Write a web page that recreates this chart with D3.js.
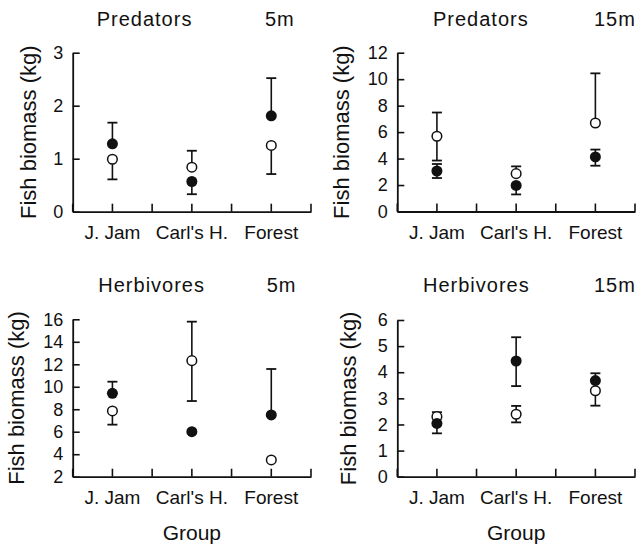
<!DOCTYPE html>
<html>
<head>
<meta charset="utf-8">
<script src="https://cdn.jsdelivr.net/npm/d3@7"></script>
<style>
  html, body { margin: 0; padding: 0; background: #fff; }
  svg { display: block; }
  text { font-family: "Liberation Sans", Arial, Helvetica, sans-serif; fill: #111; }
</style>
</head>
<body>
<svg id="chart" width="637" height="546"></svg>
<script>
// ---- Data ----
const groups = ["J. Jam", "Carl's H.", "Forest"];

// Predators 5m
const pred5Filled     = [1.28, 0.57, 1.81];
const pred5FilledUp   = [1.68, null, 2.52];
const pred5FilledLow  = [null, 0.33, null];
const pred5Open       = [0.99, 0.84, 1.25];
const pred5OpenUp     = [null, 1.15, null];
const pred5OpenLow    = [0.61, null, 0.71];
const pred5Ticks      = [0, 1, 2, 3];

// Predators 15m
const pred15Filled    = [3.06, 1.97, 4.12];
const pred15FilledUp  = [3.59, null, 4.68];
const pred15FilledLow = [2.53, 1.29, 3.46];
const pred15Open      = [5.69, 2.86, 6.69];
const pred15OpenUp    = [7.48, 3.41, 10.44];
const pred15OpenLow   = [3.85, null, null];
const pred15Ticks     = [0, 2, 4, 6, 8, 10, 12];

// Herbivores 5m
const herb5Filled     = [9.42, 6.0, 7.49];
const herb5FilledUp   = [10.45, null, 11.58];
const herb5FilledLow  = [null, null, null];
const herb5Open       = [7.85, 12.32, 3.49];
const herb5OpenUp     = [null, 15.79, null];
const herb5OpenLow    = [6.63, 8.73, null];
const herb5Ticks      = [2, 4, 6, 8, 10, 12, 14, 16];

// Herbivores 15m
const herb15Filled    = [2.04, 4.43, 3.68];
const herb15FilledUp  = [null, 5.34, 3.96];
const herb15FilledLow = [1.66, 3.47, null];
const herb15Open      = [2.30, 2.39, 3.29];
const herb15OpenUp    = [2.47, 2.71, null];
const herb15OpenLow   = [null, 2.08, 2.72];
const herb15Ticks     = [0, 1, 2, 3, 4, 5, 6];

const yLabel = "Fish biomass (kg)";
const xLabel = "Group";

// ---- Layout ----
const panels = [
  { title: "Predators", depth: "5m", x0: 72.7, x1: 311, yTop: 52.7, yBot: 211.7,
    ticks: pred5Ticks, tX: 96.7, dX: 265, tY: 26, yLabX: 36,
    filled: pred5Filled, fUp: pred5FilledUp, fLow: pred5FilledLow,
    open: pred5Open, oUp: pred5OpenUp, oLow: pred5OpenLow, showX: false },
  { title: "Predators", depth: "15m", x0: 397.3, x1: 635, yTop: 52.7, yBot: 211.5,
    ticks: pred15Ticks, tX: 433, dX: 594, tY: 26, yLabX: 349,
    filled: pred15Filled, fUp: pred15FilledUp, fLow: pred15FilledLow,
    open: pred15Open, oUp: pred15OpenUp, oLow: pred15OpenLow, showX: false },
  { title: "Herbivores", depth: "5m", x0: 72.7, x1: 311, yTop: 319.3, yBot: 476.7,
    ticks: herb5Ticks, tX: 98.3, dX: 266.7, tY: 292, yLabX: 24,
    filled: herb5Filled, fUp: herb5FilledUp, fLow: herb5FilledLow,
    open: herb5Open, oUp: herb5OpenUp, oLow: herb5OpenLow, showX: true },
  { title: "Herbivores", depth: "15m", x0: 397.3, x1: 635, yTop: 320, yBot: 476.7,
    ticks: herb15Ticks, tX: 423, dX: 594, tY: 292, yLabX: 355.6,
    filled: herb15Filled, fUp: herb15FilledUp, fLow: herb15FilledLow,
    open: herb15Open, oUp: herb15OpenUp, oLow: herb15OpenLow, showX: true }
];

const svg = d3.select("#chart");
const ink = "#111";

panels.forEach(p => {
  const g = svg.append("g");
  const x = d3.scaleBand().domain(groups).range([p.x0, p.x1]).paddingInner(0).paddingOuter(0);
  const y = d3.scaleLinear().domain([p.ticks[0], p.ticks[p.ticks.length - 1]]).range([p.yBot, p.yTop]);
  const cx = d => x(d) + x.bandwidth() / 2;

  // Y axis
  const ya = g.append("g").attr("transform", `translate(${p.x0},0)`)
    .call(d3.axisLeft(y).tickValues(p.ticks).tickFormat(d3.format("d"))
      .tickSizeInner(-7).tickSizeOuter(0).tickPadding(9.5));
  ya.select(".domain").attr("stroke", ink).attr("stroke-width", 1.8);
  ya.selectAll(".tick line").attr("stroke", ink).attr("stroke-width", 1.6);
  ya.selectAll(".tick text").attr("font-size", 18).attr("fill", ink)
    .style("font-family", "'Liberation Sans', Arial, sans-serif");

  // X axis
  const xa = g.append("g").attr("transform", `translate(0,${p.yBot})`)
    .call(d3.axisBottom(x).tickSizeInner(-8).tickSizeOuter(0).tickPadding(14));
  xa.select(".domain").attr("stroke", ink).attr("stroke-width", 1.8);
  xa.selectAll(".tick line").attr("stroke", ink).attr("stroke-width", 1.6);
  xa.selectAll(".tick text").attr("font-size", 19).attr("fill", ink)
    .style("font-family", "'Liberation Sans', Arial, sans-serif");
  // boundary ticks between bands
  const bounds = groups.map(d => x(d) + x.bandwidth()).concat([x(groups[0])]);
  g.append("g").selectAll("line").data(bounds).join("line")
    .attr("x1", d => d).attr("x2", d => d)
    .attr("y1", p.yBot).attr("y2", p.yBot - 8)
    .attr("stroke", ink).attr("stroke-width", 1.6);

  // Titles
  g.append("text").attr("x", p.tX).attr("y", p.tY).attr("font-size", 20)
    .attr("letter-spacing", "1px").text(p.title);
  g.append("text").attr("x", p.dX).attr("y", p.tY).attr("font-size", 20)
    .attr("letter-spacing", "1px").text(p.depth);

  // Y label
  g.append("text")
    .attr("transform", `translate(${p.yLabX},${(p.yTop + p.yBot) / 2}) rotate(-90)`)
    .attr("text-anchor", "middle").attr("font-size", 22).text(yLabel);

  // X label
  if (p.showX) {
    g.append("text").attr("x", cx(groups[1])).attr("y", 540)
      .attr("text-anchor", "middle").attr("font-size", 21).text(xLabel);
  }

  // Error bars
  const bars = [];
  groups.forEach((grp, i) => {
    [[p.filled, p.fUp, p.fLow], [p.open, p.oUp, p.oLow]].forEach(([m, up, lo]) => {
      if (up[i] != null) bars.push({ g: grp, from: m[i], to: up[i] });
      if (lo[i] != null) bars.push({ g: grp, from: m[i], to: lo[i] });
    });
  });
  const eb = g.append("g");
  eb.selectAll("line.stem").data(bars).join("line").attr("class", "stem")
    .attr("x1", d => cx(d.g)).attr("x2", d => cx(d.g))
    .attr("y1", d => y(d.from)).attr("y2", d => y(d.to))
    .attr("stroke", ink).attr("stroke-width", 1.6);
  eb.selectAll("line.cap").data(bars).join("line").attr("class", "cap")
    .attr("x1", d => cx(d.g) - 5).attr("x2", d => cx(d.g) + 5)
    .attr("y1", d => y(d.to)).attr("y2", d => y(d.to))
    .attr("stroke", ink).attr("stroke-width", 1.8);

  // Points
  g.append("g").selectAll("circle").data(groups).join("circle")
    .attr("cx", d => cx(d)).attr("cy", (d, i) => y(p.open[i]))
    .attr("r", 4.8).attr("fill", "#fff").attr("stroke", ink).attr("stroke-width", 1.5);
  g.append("g").selectAll("circle").data(groups).join("circle")
    .attr("cx", d => cx(d)).attr("cy", (d, i) => y(p.filled[i]))
    .attr("r", 5.5).attr("fill", ink);
});
</script>
</body>
</html>
